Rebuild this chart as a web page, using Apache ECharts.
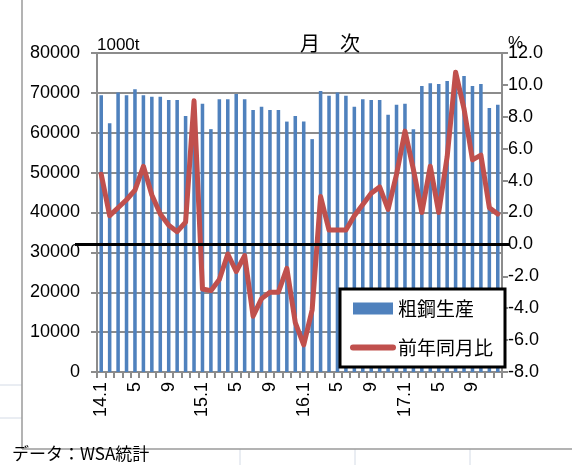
<!DOCTYPE html>
<html>
<head>
<meta charset="utf-8">
<script src="https://cdn.jsdelivr.net/npm/echarts@6/dist/echarts.min.js"></script>
<style>
html,body{margin:0;padding:0;background:#fff}
#c{width:572px;height:465px}
</style>
</head>
<body>
<div id="c"></div>
<script>
// Monthly crude steel production (1000t) and year-on-year change (%), 2014-2017
const months = [
  '14.1','2','3','4','5','6','7','8','9','10','11','12',
  '15.1','2','3','4','5','6','7','8','9','10','11','12',
  '16.1','2','3','4','5','6','7','8','9','10','11','12',
  '17.1','2','3','4','5','6','7','8','9','10','11','12'
];
const production = [
  69400, 62400, 70100, 69400, 70900, 69400, 69000, 69000, 68200, 68200, 64200, 67500,
  67300, 60900, 68400, 68400, 69700, 68400, 65700, 66500, 65700, 65700, 62800, 64200,
  62800, 58400, 70500, 69250, 70100, 69250, 66500, 68400, 68200, 68200, 64500, 67000,
  67300, 60900, 71750, 72400, 72200, 73000, 73500, 74250, 71750, 72200, 66200, 67000
];
const yoyChange = [
  4.4, 1.8, 2.3, 2.8, 3.4, 4.9, 3.1, 1.9, 1.2, 0.8, 1.4, 9.0,
  -2.8, -2.9, -2.2, -0.6, -1.7, -0.7, -4.5, -3.4, -3.0, -3.0, -1.5, -4.9,
  -6.3, -4.1, 3.0, 0.9, 0.9, 0.9, 1.8, 2.5, 3.2, 3.6, 2.2, 4.4,
  7.1, 4.7, 2.0, 4.9, 2.0, 5.5, 10.8, 8.5, 5.3, 5.6, 2.3, 1.9
];
const seriesNames = ['粗鋼生産', '前年同月比'];

const FONT = '"Liberation Sans", "Noto Sans CJK JP", sans-serif';
const CJK = '"Noto Sans CJK JP", sans-serif';
const GRID_GRAY = '#8c8c8c';
const BAR_BLUE = '#4f81bd';
const LINE_RED = '#c0504d';
const AXIS_FONT = 18;

const chart = echarts.init(document.getElementById('c'), null, {renderer: 'canvas'});

const option = {
  animation: false,
  backgroundColor: '#ffffff',
  textStyle: {fontFamily: FONT, color: '#000'},
  grid: {left: 97, right: 70, top: 53, bottom: 93, containLabel: false},
  legend: {
    orient: 'vertical',
    left: 340, top: 289,
    padding: [10, 12, 10, 10],
    itemGap: 20,
    itemWidth: 40, itemHeight: 12,
    borderColor: '#000', borderWidth: 3,
    backgroundColor: '#fff',
    textStyle: {fontFamily: CJK, fontSize: 19, color: '#000'},
    data: [
      {name: seriesNames[0], icon: 'rect'},
      {name: seriesNames[1], itemStyle: {opacity: 0},
       lineStyle: {color: LINE_RED, width: 6, cap: 'round'}}
    ]
  },
  xAxis: {
    type: 'category',
    data: months,
    boundaryGap: true,
    axisLine: {lineStyle: {color: GRID_GRAY, width: 2}},
    axisTick: {show: true, interval: 0, length: 6, lineStyle: {color: GRID_GRAY, width: 2}},
    axisLabel: {interval: 3, rotate: 90, margin: 10, fontSize: AXIS_FONT, color: '#000', fontFamily: FONT}
  },
  yAxis: [
    {
      type: 'value', min: 0, max: 80000, interval: 10000,
      axisLine: {show: true, lineStyle: {color: GRID_GRAY, width: 2}},
      axisTick: {show: true, length: 6, lineStyle: {color: GRID_GRAY, width: 2}},
      axisLabel: {fontSize: AXIS_FONT, color: '#000', margin: 17, fontFamily: FONT,
        formatter: v => String(v)},
      splitLine: {show: true, lineStyle: {color: GRID_GRAY, width: 2}}
    },
    {
      type: 'value', min: -8, max: 12, interval: 2,
      axisLine: {show: true, lineStyle: {color: GRID_GRAY, width: 2}},
      axisTick: {show: true, length: 6, lineStyle: {color: GRID_GRAY, width: 2}},
      axisLabel: {fontSize: AXIS_FONT, color: '#000', margin: 6, fontFamily: FONT,
        formatter: v => v.toFixed(1)},
      splitLine: {show: false}
    }
  ],
  series: [
    {
      name: seriesNames[0],
      type: 'bar',
      data: production,
      yAxisIndex: 0,
      barWidth: '42%',
      itemStyle: {color: BAR_BLUE}
    },
    {
      name: seriesNames[1],
      type: 'line',
      data: yoyChange,
      yAxisIndex: 1,
      showSymbol: false,
      symbol: 'none',
      lineStyle: {color: LINE_RED, width: 5, join: 'round', cap: 'round'},
      itemStyle: {color: LINE_RED},
      z: 3
    }
  ]
};
chart.setOption(option);

// Zero line of the percentage axis, drawn across and slightly beyond the plot
const zeroY = chart.convertToPixel({yAxisIndex: 1}, 0);
const cellLine = '#d4dbe6';
chart.setOption({
  graphic: [
    // worksheet cell lines around the chart
    {type: 'line', silent: true, z: -1, shape: {x1: 0, y1: 385, x2: 22, y2: 385}, style: {stroke: cellLine, lineWidth: 1}},
    {type: 'line', silent: true, z: -1, shape: {x1: 0, y1: 418, x2: 22, y2: 418}, style: {stroke: cellLine, lineWidth: 1}},
    {type: 'line', silent: true, z: -1, shape: {x1: 240, y1: 449, x2: 240, y2: 465}, style: {stroke: cellLine, lineWidth: 1}},
    {type: 'line', silent: true, z: -1, shape: {x1: 355, y1: 449, x2: 355, y2: 465}, style: {stroke: cellLine, lineWidth: 1}},
    {type: 'line', silent: true, z: -1, shape: {x1: 470, y1: 449, x2: 470, y2: 465}, style: {stroke: cellLine, lineWidth: 1}},
    // chart frame
    {type: 'line', silent: true, shape: {x1: 22, y1: 0, x2: 22, y2: 449}, style: {stroke: '#9a9a9a', lineWidth: 1.5}},
    {type: 'line', silent: true, shape: {x1: 22, y1: 449, x2: 572, y2: 449}, style: {stroke: '#9a9a9a', lineWidth: 1.5}},
    // zero line
    {type: 'line', silent: true, z: 10, shape: {x1: 75, y1: zeroY, x2: 510, y2: zeroY}, style: {stroke: '#000', lineWidth: 3}},
    // titles
    {type: 'text', silent: true, left: 300, top: 33, style: {text: '月　次', fontSize: 20, fontFamily: CJK, fill: '#000'}},
    {type: 'text', silent: true, left: 97, top: 37, style: {text: '1000t', fontSize: 17, fontFamily: FONT, fill: '#000'}},
    {type: 'text', silent: true, left: 508, top: 35, style: {text: '%', fontSize: 17, fontFamily: FONT, fill: '#000'}},
    {type: 'text', silent: true, left: 12, top: 445, style: {text: 'データ：WSA統計', fontSize: 17, fontFamily: CJK, fill: '#000'}}
  ]
});
</script>
</body>
</html>
